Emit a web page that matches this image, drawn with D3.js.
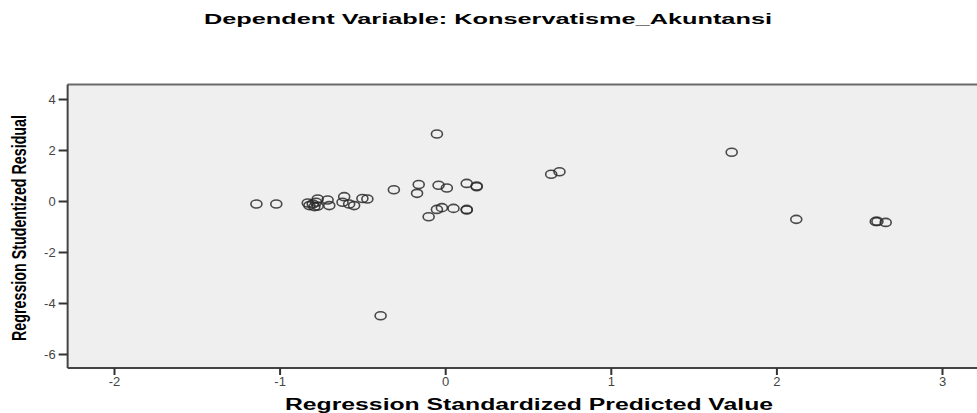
<!DOCTYPE html>
<html>
<head>
<meta charset="utf-8">
<script src="https://cdn.jsdelivr.net/npm/d3@7"></script>
<style>
	body { margin: 0; background: #fff; }
	svg { display: block; }
	text { font-family: 'Liberation Sans', Arial, sans-serif; }
</style>
</head>
<body>
<div id="scatter"></div>
<script>
// predicted value (x) and studentized residual (y)
const predicted = [
	-1.14, -1.02, -0.83, -0.82, -0.80, -0.79, -0.78, -0.77, -0.77, -0.71, -0.70,
	-0.61, -0.62, -0.58, -0.55, -0.50, -0.47, -0.31, -0.16, -0.17, -0.04, 0.01,
	0.13, 0.19, 0.19, -0.10, -0.05, -0.02, 0.05, 0.13, 0.13, -0.05, -0.39,
	0.64, 0.69, 1.73, 2.12, 2.60, 2.61, 2.66
]
const residual = [
	-0.12, -0.12, -0.08, -0.18, -0.12, -0.22, -0.05, -0.20, 0.08, 0.04, -0.18,
	0.17, -0.05, -0.12, -0.18, 0.10, 0.08, 0.44, 0.65, 0.30, 0.62, 0.51,
	0.69, 0.59, 0.56, -0.62, -0.33, -0.26, -0.29, -0.33, -0.35, 2.63, -4.50,
	1.05, 1.15, 1.91, -0.72, -0.80, -0.80, -0.84
]
const xTicks = [-2, -1, 0, 1, 2, 3]
const yTicks = [4, 2, 0, -2, -4, -6]
const title = 'Dependent Variable: Konservatisme_Akuntansi'
const xTitle = 'Regression Standardized Predicted Value'
const yTitle = 'Regression Studentized Residual'

const width = 977, height = 413

const data = predicted.map((p, i) => ({ x: p, y: residual[i] }))

let svg = d3.select('#scatter')
	.append('svg')
	.attr('width', width)
	.attr('height', height)

let xScale = d3.scaleLinear()
	.domain([-2, 3])
	.range([114, 942])

let yScale = d3.scaleLinear()
	.domain([-6, 4])
	.range([354, 99])

const plotLeft = xScale(-2.28), plotTop = yScale(4.57), plotBottom = yScale(-6.55)

// plot background
svg.append('rect')
	.attr('x', plotLeft)
	.attr('y', plotTop)
	.attr('width', width - plotLeft + 5)
	.attr('height', plotBottom - plotTop)
	.attr('fill', '#efefef')

// frame
svg.append('line')
	.attr('x1', plotLeft).attr('x2', width + 5)
	.attr('y1', plotTop).attr('y2', plotTop)
	.attr('stroke', '#6a6a6a').attr('stroke-width', 2)
svg.append('line')
	.attr('x1', plotLeft).attr('x2', width + 5)
	.attr('y1', plotBottom).attr('y2', plotBottom)
	.attr('stroke', '#444').attr('stroke-width', 2)
svg.append('line')
	.attr('x1', plotLeft).attr('x2', plotLeft)
	.attr('y1', plotTop).attr('y2', plotBottom)
	.attr('stroke', '#444').attr('stroke-width', 2)

// axes (plain hyphen for negatives, like the original)
let yAxis = svg.append('g')
	.attr('transform', `translate(${plotLeft},0)`)
	.call(d3.axisLeft(yScale).tickValues(yTicks).tickSize(9).tickPadding(3).tickFormat(d => String(d)))
yAxis.select('.domain').remove()

let xAxis = svg.append('g')
	.attr('transform', `translate(0,${plotBottom})`)
	.call(d3.axisBottom(xScale).tickValues(xTicks).tickSize(7).tickPadding(2).tickFormat(d => String(d)))
xAxis.select('.domain').remove()

svg.selectAll('.tick line').attr('stroke', '#333').attr('stroke-width', 2)
svg.selectAll('.tick text')
	.attr('fill', '#444')
	.style('font-size', '13px')
	.style('font-family', "'Liberation Sans', Arial, sans-serif")

// points
svg.append('g')
	.selectAll('ellipse')
	.data(data)
	.join('ellipse')
	.attr('cx', d => xScale(d.x))
	.attr('cy', d => yScale(d.y))
	.attr('rx', 5.5)
	.attr('ry', 4)
	.attr('fill', 'none')
	.attr('stroke', '#2a2a2a')
	.attr('stroke-width', 1.6)
	.attr('stroke-opacity', 0.85)

// titles
svg.append('text')
	.attr('x', 488)
	.attr('y', 24)
	.attr('text-anchor', 'middle')
	.attr('textLength', 568)
	.attr('lengthAdjust', 'spacingAndGlyphs')
	.style('font-size', '15px')
	.style('font-weight', 'bold')
	.text(title)

svg.append('text')
	.attr('x', 529)
	.attr('y', 410)
	.attr('text-anchor', 'middle')
	.attr('textLength', 488)
	.attr('lengthAdjust', 'spacingAndGlyphs')
	.style('font-size', '16px')
	.style('font-weight', 'bold')
	.text(xTitle)

svg.append('text')
	.attr('transform', 'translate(26,228) rotate(-90)')
	.attr('text-anchor', 'middle')
	.attr('textLength', 226)
	.attr('lengthAdjust', 'spacingAndGlyphs')
	.style('font-size', '21px')
	.style('font-weight', 'bold')
	.text(yTitle)
</script>
</body>
</html>
